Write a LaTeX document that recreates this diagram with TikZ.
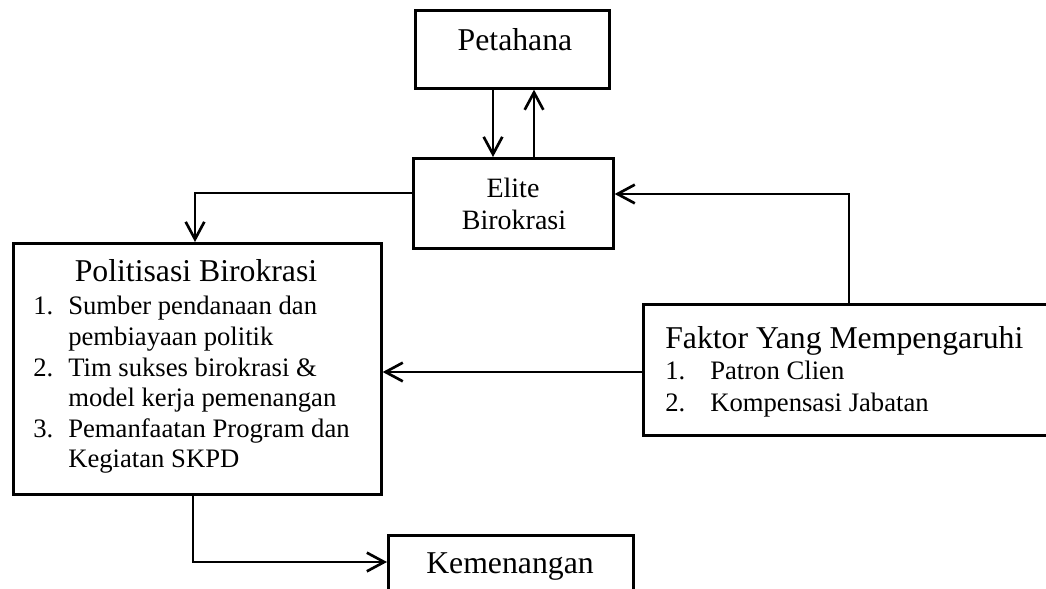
\documentclass[tikz,border=0pt]{standalone}
\usepackage{fontspec}
\setmainfont{Liberation Serif}
\usetikzlibrary{arrows.meta}
\begin{document}
\begin{tikzpicture}[x=0.75pt,y=-0.75pt,
  box/.style={draw, line width=2pt, inner sep=0pt, anchor=north west},
  big/.style={font=\fontsize{23.8}{28}\selectfont, inner sep=0pt, anchor=base},
  small/.style={font=\fontsize{20}{24}\selectfont, inner sep=0pt, anchor=base west},
  mid/.style={font=\fontsize{21}{25}\selectfont, inner sep=0pt, anchor=base},
  conn/.style={line width=2pt, -{Straight Barb[length=13pt,width=14pt]}}]
\clip (0,0) rectangle (1046,589);
% boxes
\node[box, minimum width=145.5pt, minimum height=58.5pt] (pet) at (414,9) {};
\node[box, minimum width=150pt, minimum height=67.5pt] (eli) at (412,157) {};
\node[box, minimum width=276pt, minimum height=188.25pt] (pol) at (12,242) {};
\node[box, minimum width=313.5pt, minimum height=98.25pt] (fak) at (642,303) {};
\node[box, minimum width=183.75pt, minimum height=57pt] (kem) at (387,534) {};
% texts
\node[big] (tpet) at (515,50) {Petahana};
\node[mid] (tel1) at (513,197) {Elite};
\node[mid] (tel2) at (514,229) {Birokrasi};
\node[big] (tpol) at (196,281) {Politisasi Birokrasi};
\node[small] (n1) at (33,314) {1.};
\node[small] (l1) at (68,314) {Sumber pendanaan dan};
\node[small] (l2) at (68,345) {pembiayaan politik};
\node[small] (n2) at (33,376) {2.};
\node[small] (l3) at (68,376) {Tim sukses birokrasi \&};
\node[small] (l4) at (68,406) {model kerja pemenangan};
\node[small] (n3) at (33,437) {3.};
\node[small] (l5) at (68,437) {Pemanfaatan Program dan};
\node[small] (l6) at (68,467) {Kegiatan SKPD};
\node[big, anchor=base west] (tfak) at (665,348) {Faktor Yang Mempengaruhi};
\node[small] (f1n) at (665,379) {1.};
\node[small] (f1) at (710,379) {Patron Clien};
\node[small] (f2n) at (665,411) {2.};
\node[small] (f2) at (710,411) {Kompensasi Jabatan};
\node[big] (tkem) at (510,573) {Kemenangan};
% connectors
\draw[conn] (pet.south -| 493,0) -- (eli.north -| 493,0);
\draw[conn] (eli.north -| 534,0) -- (pet.south -| 534,0);
\draw[conn] (eli.west |- 0,193) -| (pol.north -| 195,0);
\draw[conn] (fak.north -| 849,0) |- (eli.east |- 0,194);
\draw[conn] (fak.west |- 0,372) -- (pol.east |- 0,372);
\draw[conn] (pol.south -| 193,0) |- (kem.west |- 0,562);
\end{tikzpicture}
\end{document}
